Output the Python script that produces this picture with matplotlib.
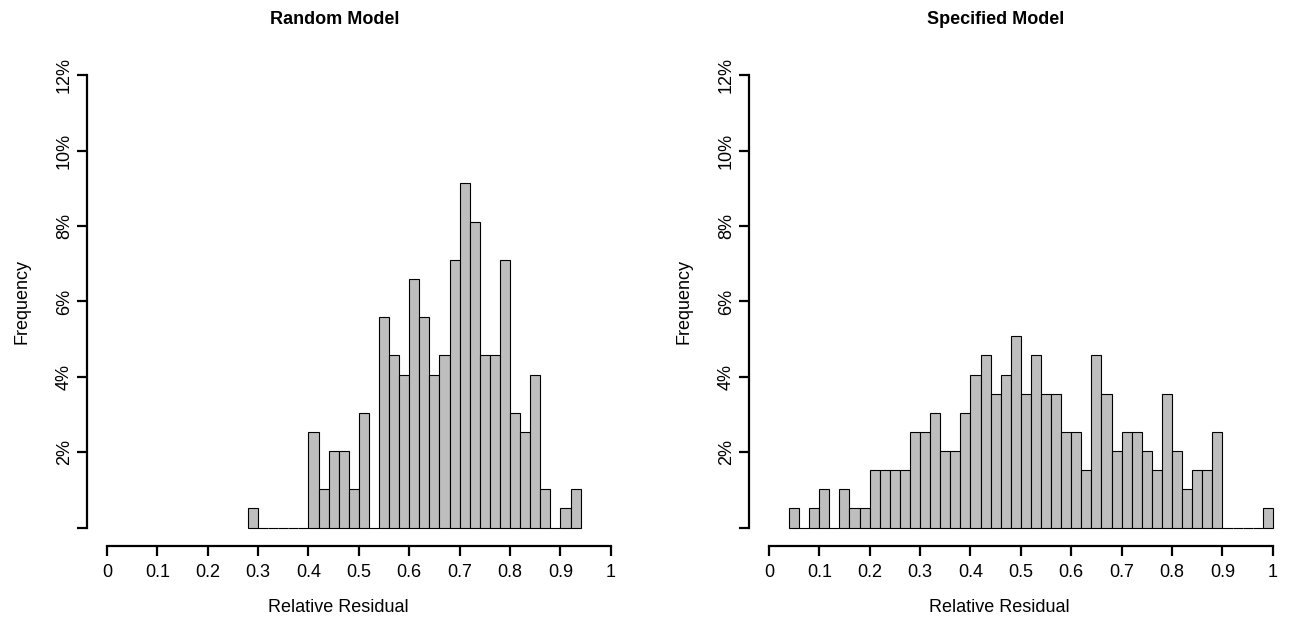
import numpy as np
import matplotlib
matplotlib.use("Agg")
import matplotlib.pyplot as plt

plt.rcParams['font.family'] = ['Liberation Sans', 'DejaVu Sans']

# histogram counts (bin width 0.02)
bin_width = 0.02
random_start = 0.28
random_counts = [1, 0, 0, 0, 0, 0, 5, 2, 4, 4, 2, 6, 0, 11, 9, 8, 13, 11, 8,
                 9, 14, 18, 16, 9, 9, 14, 6, 5, 8, 2, 0, 1, 2]
specified_start = 0.04
specified_counts = [1, 0, 1, 2, 0, 2, 1, 1, 3, 3, 3, 3, 5, 5, 6, 4, 4, 6, 8, 9,
                    7, 8, 10, 7, 9, 7, 7, 5, 5, 3, 9, 7, 4, 5, 5, 4, 3, 7, 4, 2,
                    3, 3, 5, 0, 0, 0, 0, 1]

titles = ["Random Model", "Specified Model"]
x_ticks = [0, 0.1, 0.2, 0.3, 0.4, 0.5, 0.6, 0.7, 0.8, 0.9, 1]
x_ticklabels = ["0", "0.1", "0.2", "0.3", "0.4", "0.5", "0.6", "0.7", "0.8", "0.9", "1"]
y_ticks = [0, 2, 4, 6, 8, 10, 12]
y_ticklabels = ["", "2%", "4%", "6%", "8%", "10%", "12%"]

W, H = 1292, 623
fig = plt.figure(figsize=(W / 100, H / 100), dpi=100)

fs = 13
panels = [(random_start, random_counts), (specified_start, specified_counts)]
offset = 662
for i, (start, counts) in enumerate(panels):
    dx = i * offset
    left, right = 86.7 + dx, 631 + dx
    top, bottom = 57.4, 545.6
    ax = fig.add_axes([left / W, 1 - bottom / H, (right - left) / W, (bottom - top) / H])
    counts = np.array(counts, dtype=float)
    pct = counts / counts.sum() * 100
    edges = start + bin_width * np.arange(len(counts))
    ax.bar(edges, pct, width=bin_width, align='edge', color='#BEBEBE',
           edgecolor='black', linewidth=0.8)
    ax.set_xlim(-0.04, 1.04)
    ax.set_ylim(-0.48, 12.48)
    for s in ['top', 'right']:
        ax.spines[s].set_visible(False)
    ax.spines['left'].set_bounds(0, 12)
    ax.spines['bottom'].set_bounds(0, 1)
    for s in ['left', 'bottom']:
        ax.spines[s].set_linewidth(1.6)
    ax.set_xticks(x_ticks)
    ax.set_xticklabels(x_ticklabels, fontsize=fs)
    ax.set_yticks(y_ticks)
    ax.set_yticklabels(y_ticklabels, fontsize=fs, rotation=90, va='center')
    ax.tick_params(direction='out', length=7, width=1.6)
    ax.tick_params(axis='x', pad=6)
    ax.tick_params(axis='y', pad=3)
    cx = 335 + i * 661
    fig.text(cx / W, 1 - 19 / H, titles[i], ha='center', va='center',
             fontsize=fs, fontweight='bold')
    fig.text((cx + 3) / W, 1 - 607 / H, "Relative Residual", ha='center', va='center',
             fontsize=fs)
    fig.text((22 + dx) / W, 1 - 301 / H, "Frequency", ha='center', va='center',
             rotation=90, fontsize=fs)

fig.savefig("out.png", dpi=100)
